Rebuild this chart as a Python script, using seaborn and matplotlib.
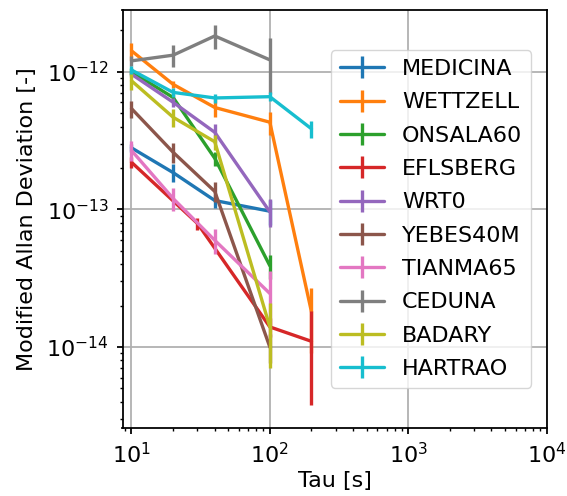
import matplotlib
matplotlib.use("Agg")
import matplotlib.pyplot as plt
from matplotlib.lines import Line2D
import seaborn as sns
import pandas as pd

stations = ["MEDICINA", "WETTZELL", "ONSALA60", "EFLSBERG", "WRT0",
            "YEBES40M", "TIANMA65", "CEDUNA", "BADARY", "HARTRAO"]

tau_medicina = [10, 20, 40, 100]
adev_medicina = [2.8e-13, 1.85e-13, 1.16e-13, 9.7e-14]
err_medicina = [0.2e-13, 0.27e-13, 0.13e-13, 0.2e-13]

tau_wettzell = [10, 20, 40, 100, 200]
adev_wettzell = [1.42e-12, 8.1e-13, 5.5e-13, 4.3e-13, 1.8e-14]
err_wettzell = [2.0e-13, 0.5e-13, 0.8e-13, 0.8e-13, 0.9e-14]

tau_onsala60 = [10, 20, 40, 100]
adev_onsala60 = [1.0e-12, 6.5e-13, 2.35e-13, 3.9e-14]
err_onsala60 = [0.6e-13, 0.4e-13, 0.28e-13, 0.8e-14]

tau_eflsberg = [10, 30, 100, 200]
adev_eflsberg = [2.2e-13, 7.9e-14, 1.4e-14, 1.1e-14]
err_eflsberg = [0.2e-13, 0.8e-14, 0.22e-14, 0.72e-14]

tau_wrt0 = [10, 20, 40, 100]
adev_wrt0 = [9.6e-13, 6.0e-13, 3.63e-13, 9.6e-14]
err_wrt0 = [0.5e-13, 0.5e-13, 0.57e-13, 0.22e-13]

tau_yebes40m = [10, 20, 40, 100]
adev_yebes40m = [5.4e-13, 2.6e-13, 1.35e-13, 1.0e-14]
err_yebes40m = [0.77e-13, 0.42e-13, 0.22e-13, 0.24e-14]

tau_tianma65 = [10, 20, 40, 100]
adev_tianma65 = [2.68e-13, 1.2e-13, 5.96e-14, 2.45e-14]
err_tianma65 = [0.45e-13, 0.23e-13, 1.25e-14, 1.1e-14]

tau_ceduna = [10, 20, 40, 100]
adev_ceduna = [1.2e-12, 1.32e-12, 1.82e-12, 1.22e-12]
err_ceduna = [1.0e-13, 2.4e-13, 3.6e-13, 5.3e-13]

tau_badary = [10, 20, 40, 100]
adev_badary = [8.6e-13, 4.67e-13, 3.1e-13, 1.4e-14]
err_badary = [1.2e-13, 0.67e-13, 0.4e-13, 0.7e-14]

tau_hartrao = [10, 20, 40, 100, 200]
adev_hartrao = [1.03e-12, 7.08e-13, 6.45e-13, 6.59e-13, 3.85e-13]
err_hartrao = [0.7e-13, 0.5e-13, 0.5e-13, 0.5e-13, 0.57e-13]

series = [
    (tau_medicina, adev_medicina, err_medicina),
    (tau_wettzell, adev_wettzell, err_wettzell),
    (tau_onsala60, adev_onsala60, err_onsala60),
    (tau_eflsberg, adev_eflsberg, err_eflsberg),
    (tau_wrt0, adev_wrt0, err_wrt0),
    (tau_yebes40m, adev_yebes40m, err_yebes40m),
    (tau_tianma65, adev_tianma65, err_tianma65),
    (tau_ceduna, adev_ceduna, err_ceduna),
    (tau_badary, adev_badary, err_badary),
    (tau_hartrao, adev_hartrao, err_hartrao),
]

sns.set_style("ticks")
plt.rcParams['font.family'] = ['DejaVu Sans']
plt.rcParams.update({"text.color": "black", "axes.labelcolor": "black",
                     "xtick.color": "black", "ytick.color": "black",
                     "axes.edgecolor": "black"})
FS = 16
LW = 2.4
palette = sns.color_palette("tab10", len(stations))

fig = plt.figure(figsize=(5.67, 4.96), dpi=100)
ax = fig.add_axes([122.5 / 567, 1 - 428 / 496, 424 / 567, 418 / 496])

handles = []
for name, (tau, adev, err), col in zip(stations, series, palette):
    df = pd.DataFrame({"tau": tau, "adev": adev})
    sns.lineplot(data=df, x="tau", y="adev", ax=ax, color=col, lw=LW,
                 legend=False, estimator=None)
    ax.errorbar(tau, adev, yerr=err, fmt="none", ecolor=col, elinewidth=LW)
    handles.append(Line2D([], [], color=col, lw=LW, marker="|",
                          markersize=16, markeredgewidth=LW, label=name))

ax.set_xscale("log")
ax.set_yscale("log")
ax.set_xlim(8.61, 1e4)
ax.set_ylim(2.58e-15, 2.81e-12)
ax.grid(True, which="major", color="#b0b0b0", lw=1.28)
for s in ax.spines.values():
    s.set_color("black")
    s.set_linewidth(1.28)
ax.tick_params(labelsize=FS, which="major", direction="out", color="black",
               labelcolor="black", length=4.3, width=1.28, pad=5.6)
ax.tick_params(which="minor", direction="out", color="black",
               length=2.5, width=1.0)
ax.set_xlabel("Tau [s]", fontsize=FS, labelpad=3, color="black")
ax.set_ylabel("Modified Allan Deviation [-]", fontsize=FS, labelpad=7,
              color="black")
leg = ax.legend(handles=handles, loc="center right", fontsize=FS, frameon=True,
                framealpha=0.8, edgecolor="#cccccc", fancybox=True,
                labelspacing=0.6, borderaxespad=0.7)
for t in leg.get_texts():
    t.set_color("black")

fig.savefig("out.png", dpi=100)
